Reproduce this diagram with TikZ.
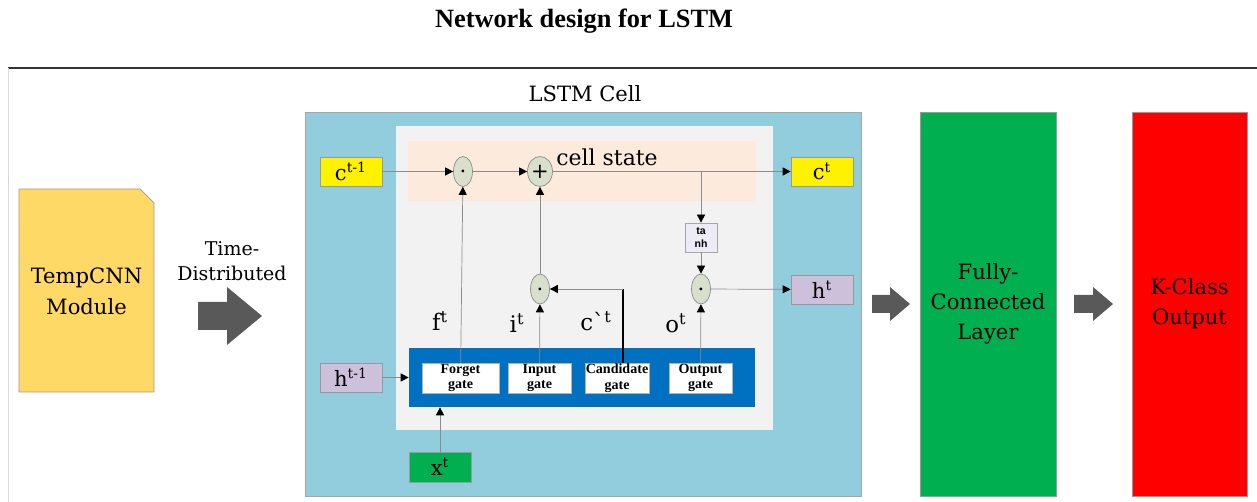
\documentclass[tikz,border=0pt]{standalone}
\usepackage{fontspec}
\setmainfont{DejaVu Serif}
\newfontfamily\titlefont{Liberation Serif}
\newfontfamily\tanhfont{Liberation Sans}
\usetikzlibrary{arrows.meta,shapes.geometric}

\definecolor{cellblue}{RGB}{146,205,221}
\definecolor{innergray}{RGB}{242,242,242}
\definecolor{bandpeach}{RGB}{252,234,221}
\definecolor{gateblue}{RGB}{0,112,192}
\definecolor{opfill}{RGB}{216,224,204}
\definecolor{lav}{RGB}{204,192,218}
\definecolor{tanhfill}{RGB}{237,235,245}
\definecolor{tcnnyellow}{RGB}{255,217,102}
\definecolor{fcgreen}{RGB}{0,176,80}
\definecolor{arrowgray}{RGB}{89,89,89}

\begin{document}
\begin{tikzpicture}[x=0.02cm,y=-0.02cm,
  line/.style={draw=black!45,-{Triangle[black,length=1.6mm,width=1.6mm]}},
  port/.style={draw=black!40,minimum width=1.24cm,minimum height=0.58cm,inner sep=0pt,font=\fontsize{12}{14}\selectfont},
  op/.style={ellipse,draw=black!45,fill=opfill,minimum width=0.38cm,minimum height=0.6cm,inner sep=0pt,font=\fontsize{12}{12}\selectfont},
  gate/.style={draw=black!30,fill=white,minimum height=0.6cm,inner sep=0pt,align=center,font=\titlefont\bfseries\fontsize{8}{8.8}\selectfont},
  block/.style={draw=black!40,minimum width=2.72cm,minimum height=7.68cm,inner sep=0pt,align=center,font=\fontsize{12}{17}\selectfont},
  bigarrow/.style={fill=arrowgray},
  lbl/.style={font=\fontsize{13}{15}\selectfont}]
\useasboundingbox (0,0) rectangle (1257,502);

\node[font=\titlefont\bfseries\fontsize{15}{18}\selectfont] (title) at (584,21) {Network design for LSTM};
\draw[black!80,line width=0.9pt] (8,68) -- (1257,68);
\draw[black!15] (8,68) -- (8,502);

% input module
\draw[draw=black!40,fill=tcnnyellow] (19,189) -- (140,189) -- (154,203) -- (154,392) -- (19,392) -- cycle;
\node[font=\fontsize{12}{17.6}\selectfont,align=center] (tcnn) at (86.5,291) {TempCNN\\Module};
\node[align=center,font=\fontsize{10.8}{14}\selectfont] (tdist) at (232,261) {Time-\\Distributed};
\fill[bigarrow] (198,302) -- (227,302) -- (227,287) -- (262,316) -- (227,345) -- (227,330) -- (198,330) -- cycle;

% lstm cell
\node[draw=black!35,fill=cellblue,minimum width=11.12cm,minimum height=7.68cm,inner sep=0pt] (cellbox) at (583,304) {};
\node[font=\fontsize{12}{14}\selectfont] (celltitle) at (585,94) {LSTM Cell};
\node[fill=innergray,minimum width=7.54cm,minimum height=6.08cm,inner sep=0pt] (inner) at (584.5,278) {};
\node[fill=bandpeach,minimum width=6.96cm,minimum height=1.2cm,inner sep=0pt] (band) at (582,171.5) {};
\node[font=\fontsize{12.5}{14}\selectfont] (cstate) at (607,157) {cell state};

\node[port,fill=yellow] (cprev) at (351,171.5) {c\textsuperscript{t-1}};
\node[port,fill=yellow] (cnext) at (822,171.5) {c\textsuperscript{t}};
\node[port,fill=lav] (hprev) at (351,377.5) {h\textsuperscript{t-1}};
\node[port,fill=lav] (hnext) at (822,289.5) {h\textsuperscript{t}};
\node[port,fill=fcgreen,minimum height=0.6cm] (xin) at (440,467) {x\textsuperscript{t}};

\node[op] (fmul) at (463,171.5) {.};
\node[op] (add) at (540,171.5) {+};
\node[op] (imul) at (540,289) {.};
\node[op] (omul) at (701,289) {.};
\node[draw=black!35,fill=tanhfill,minimum width=0.64cm,minimum height=0.58cm,inner sep=0pt,align=center,font=\tanhfont\bfseries\fontsize{6}{7}\selectfont] (tanh) at (701,237.5) {ta\\nh};

\node[fill=gateblue,minimum width=6.92cm,minimum height=1.18cm,inner sep=0pt] (gates) at (582,377.5) {};
\node[gate,minimum width=1.54cm] (forget) at (460.5,378) {Forget\\gate};
\node[gate,minimum width=1.26cm] (input) at (539.5,378) {Input\\gate};
\node[gate,minimum width=1.28cm] (cand) at (617,378) {Candidate\\gate};
\node[gate,minimum width=1.26cm] (outg) at (700.5,378) {Output\\gate};

\node[lbl] (flab) at (440,321) {f\textsuperscript{t}};
\node[lbl] (ilab) at (517,323) {i\textsuperscript{t}};
\node[lbl] (clab) at (596,321) {c\textasciigrave\textsuperscript{t}};
\node[lbl] (olab) at (676,323) {o\textsuperscript{t}};

\draw[line] (cprev) -- (fmul);
\draw[line] (fmul) -- (add);
\draw[line] (add) -- (cnext);
\draw[line] (tanh.north |- add) -- (tanh);
\draw[line] (tanh) -- (omul);
\draw[line] (omul) -- (hnext);
\draw[line] (forget) -- (fmul);
\draw[line] (input) -- (imul);
\draw[line] (imul) -- (add);
\draw[line] (outg) -- (omul);
\coordinate (ctop) at ([xshift=0.12cm]cand.north);
\draw[line width=1.3pt] (ctop) -- (ctop |- imul.east) coordinate (cturn);
\draw[line] (cturn) -- (imul.east);
\draw[line] (hprev) -- (gates);
\draw[line] (xin.north) -- (xin.north |- gates.south);

% output side
\fill[bigarrow] (872,295) -- (890,295) -- (890,287) -- (910,304) -- (890,321) -- (890,313) -- (872,313) -- cycle;
\node[block,fill=fcgreen] (fc) at (988,304) {Fully-\\Connected\\Layer};
\fill[bigarrow] (1074,295) -- (1093,295) -- (1093,287) -- (1113,304) -- (1093,321) -- (1093,313) -- (1074,313) -- cycle;
\node[block,fill=red,minimum width=2.3cm] (kout) at (1189.5,304) {K-Class\\Output};
\end{tikzpicture}
\end{document}
